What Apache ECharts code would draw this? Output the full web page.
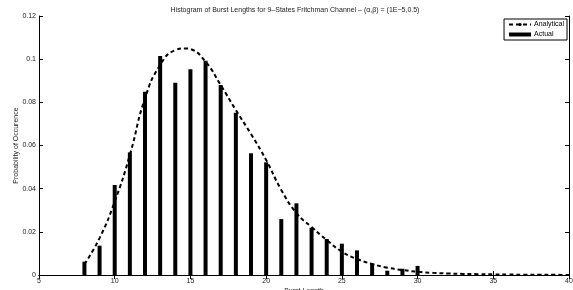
<!DOCTYPE html>
<html><head><meta charset="utf-8">
<script src="https://cdn.jsdelivr.net/npm/echarts@6/dist/echarts.min.js"></script>
<style>html,body{margin:0;padding:0;background:#fff}#c{width:573px;height:290px}</style>
</head><body><div id="c"></div>
<script>
const burstLengths = [8,9,10,11,12,13,14,15,16,17,18,19,20,21,22,23,24,25,26,27,28,29,30];
const actualProb = [0.0062,0.0136,0.0417,0.0568,0.0849,0.1015,0.0891,0.0953,0.0993,0.0880,0.0752,0.0564,0.0522,0.0259,0.0332,0.0219,0.0167,0.0145,0.0114,0.0052,0.0020,0.0029,0.0042];
const curveX = [8,9,10,11,12,13,14,14.7,15,16,17,18,19,20,21,22,23,24,25,26,27,28,29,30,31,32,33,34,35,36,37,38,39,40];
const analyticalProb = [0.0050,0.0171,0.0340,0.0556,0.0819,0.0973,0.1042,0.1050,0.1047,0.0988,0.0880,0.0764,0.0653,0.0533,0.0394,0.0287,0.0222,0.0162,0.0108,0.0074,0.0051,0.0034,0.0023,0.0015,0.0010,0.0007,0.0005,0.0004,0.0003,0.0002,0.00015,0.0001,0.00007,0.00005];
const titleText = 'Histogram of Burst Lengths for 9\u2013States Fritchman Channel \u2013 (\u03b1,\u03b2) = (1E\u22125,0.5)';

const font = 'Liberation Sans, Arial, sans-serif';
const chart = echarts.init(document.getElementById('c'));
const axisCommon = {
  axisLine:{show:true,lineStyle:{color:'#000',width:1}},
  axisTick:{show:true,inside:true,length:4,lineStyle:{color:'#000'}},
  splitLine:{show:false}
};
chart.setOption({
  animation:false,
  backgroundColor:'#fff',
  title:{text:titleText,left:290,textAlign:'center',top:2,textStyle:{fontFamily:font,fontSize:7,fontWeight:'normal',color:'#222'}},
  grid:{left:39,right:4,top:16,bottom:15,containLabel:false,outerBoundsMode:'none'},
  legend:{
    orient:'vertical',right:6,top:19,
    borderColor:'#000',borderWidth:1,backgroundColor:'#fff',borderRadius:0,
    padding:[2,3,2,4],itemGap:3,itemWidth:22,itemHeight:4,
    textStyle:{fontFamily:font,fontSize:7,color:'#000',padding:[0,0,0,-2]},
    data:[{name:'Analytical'},{name:'Actual',icon:'rect'}]
  },
  xAxis:[
    Object.assign({type:'value',min:5,max:40,interval:5,position:'bottom',
      name:'Burst Length',nameLocation:'middle',nameGap:13,nameMoveOverlap:false,
      nameTextStyle:{fontFamily:font,fontSize:7,color:'#222'},
      axisLabel:{fontFamily:font,fontSize:7,color:'#222',margin:3}},axisCommon),
    Object.assign({type:'value',min:5,max:40,interval:5,position:'top',axisLabel:{show:false}},axisCommon)
  ],
  yAxis:[
    Object.assign({type:'value',min:0,max:0.12,interval:0.02,position:'left',
      name:'Probability of Occurence',nameLocation:'middle',nameGap:19,nameMoveOverlap:false,
      nameTextStyle:{fontFamily:font,fontSize:7,color:'#222'},
      axisLabel:{fontFamily:font,fontSize:7,color:'#222',margin:3,formatter:v=>String(+v.toFixed(2))}},axisCommon),
    Object.assign({type:'value',min:0,max:0.12,interval:0.02,position:'right',axisLabel:{show:false}},axisCommon)
  ],
  series:[
    {name:'Analytical',type:'line',smooth:true,symbol:'none',z:3,
      lineStyle:{color:'#000',width:2,type:[4,3]},itemStyle:{color:'#000'},
      data:curveX.map((x,i)=>[x,analyticalProb[i]])},
    {name:'Actual',type:'bar',barWidth:4,itemStyle:{color:'#000'},z:2,
      data:burstLengths.map((x,i)=>[x,actualProb[i]])}
  ]
});
</script></body></html>
